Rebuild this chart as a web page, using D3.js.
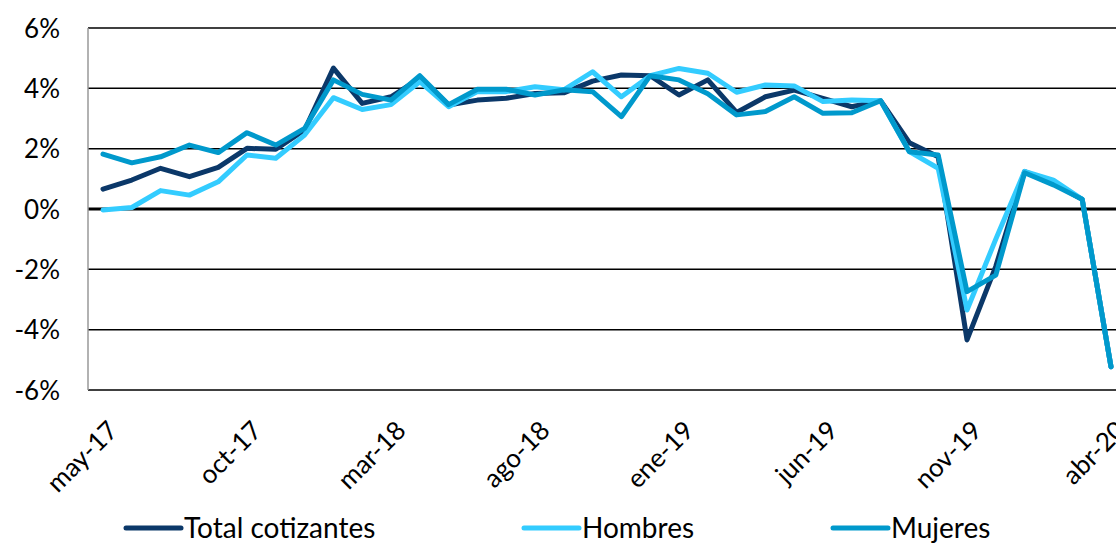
<!DOCTYPE html>
<html>
<head>
<meta charset="utf-8">
<script src="https://cdn.jsdelivr.net/npm/d3@7"></script>
<style>
  html, body { margin: 0; padding: 0; background: #fff; }
  svg { display: block; }
  text { font-family: Lato, "Open Sans", sans-serif; fill: #000; }
</style>
</head>
<body>
<svg id="chart" width="1116" height="544"></svg>
<script>
const months = ["may-17","jun-17","jul-17","ago-17","sep-17","oct-17","nov-17","dic-17",
  "ene-18","feb-18","mar-18","abr-18","may-18","jun-18","jul-18","ago-18","sep-18","oct-18","nov-18","dic-18",
  "ene-19","feb-19","mar-19","abr-19","may-19","jun-19","jul-19","ago-19","sep-19","oct-19","nov-19","dic-19",
  "ene-20","feb-20","mar-20","abr-20"];
const tickLabels = ["may-17","oct-17","mar-18","ago-18","ene-19","jun-19","nov-19","abr-20"];
const yTicks = [-6,-4,-2,0,2,4,6];

const total =   [0.66,0.96,1.35,1.07,1.38,2.01,1.98,2.62,4.67,3.50,3.72,4.33,3.45,3.61,3.67,3.83,3.85,4.24,4.44,4.42,3.78,4.28,3.20,3.72,3.94,3.67,3.39,3.59,2.20,1.73,-4.34,-1.90,1.24,0.85,0.32,-5.23];
const hombres = [-0.03,0.05,0.61,0.46,0.90,1.79,1.68,2.45,3.69,3.30,3.46,4.22,3.39,3.89,3.89,4.05,3.95,4.55,3.72,4.42,4.66,4.50,3.87,4.11,4.08,3.56,3.61,3.59,1.90,1.35,-3.35,-1.00,1.25,0.96,0.32,-5.23];
const mujeres = [1.82,1.53,1.73,2.12,1.87,2.53,2.12,2.67,4.28,3.80,3.61,4.42,3.46,3.97,3.97,3.78,3.95,3.89,3.06,4.42,4.28,3.82,3.12,3.23,3.72,3.17,3.19,3.59,1.90,1.79,-2.74,-2.19,1.20,0.80,0.32,-5.23];

const seriesNames = ["Total cotizantes","Hombres","Mujeres"];
const seriesColors = ["#0B3869","#33CCFF","#0099CC"];
const seriesData = [total, hombres, mujeres];

const svg = d3.select("#chart");
const plotLeft = 88, plotRight = 1116, plotTop = 28, plotBottom = 390;

const x = d3.scalePoint().domain(months).range([103, 1111]);
const y = d3.scaleLinear().domain([-6, 6]).range([plotBottom, plotTop]);

// gridlines
svg.append("g").selectAll("line").data(yTicks).join("line")
  .attr("x1", plotLeft).attr("x2", plotRight)
  .attr("y1", d => y(d)).attr("y2", d => y(d))
  .attr("stroke", "#000")
  .attr("stroke-width", d => d === 0 ? 3 : 1.5);

// y axis line
svg.append("line")
  .attr("x1", plotLeft).attr("x2", plotLeft)
  .attr("y1", plotTop).attr("y2", plotBottom)
  .attr("stroke", "#999").attr("stroke-width", 1.5);

// y labels
const yAxis = d3.axisLeft(y).tickValues(yTicks).tickSize(0).tickPadding(0)
  .tickFormat(d => d + "%");
const gy = svg.append("g").attr("transform", `translate(60,0)`).call(yAxis);
gy.select(".domain").remove();
gy.selectAll("text").attr("font-size", 26).attr("font-family", "Lato, sans-serif").attr("dy", "0.35em");

// x labels
const xAxis = d3.axisBottom(x).tickValues(tickLabels).tickSize(0).tickPadding(0);
const gx = svg.append("g").attr("transform", `translate(0,${plotBottom})`).call(xAxis);
gx.select(".domain").remove();
gx.selectAll("text")
  .attr("font-size", 26).attr("font-family", "Lato, sans-serif")
  .attr("text-anchor", "end")
  .attr("dy", null).attr("y", 0)
  .attr("transform", "translate(16,42) rotate(-45)");

// lines
const line = d3.line().x((d, i) => x(months[i])).y(d => y(d));
svg.append("g").selectAll("path").data(seriesData).join("path")
  .attr("d", d => line(d))
  .attr("fill", "none")
  .attr("stroke", (d, i) => seriesColors[i])
  .attr("stroke-width", 5)
  .attr("stroke-linejoin", "round")
  .attr("stroke-linecap", "round");

// legend
const legendX = [126, 524, 833];
const lg = svg.append("g").selectAll("g").data(seriesNames).join("g")
  .attr("transform", (d, i) => `translate(${legendX[i]},528)`);
lg.append("line").attr("x1", 0).attr("x2", 55).attr("y1", 0).attr("y2", 0)
  .attr("stroke", (d, i) => seriesColors[i]).attr("stroke-width", 5).attr("stroke-linecap", "round");
lg.append("text").attr("x", 58).attr("y", 0).attr("dy", "0.35em")
  .attr("font-size", 28).text(d => d);
</script>
</body>
</html>
